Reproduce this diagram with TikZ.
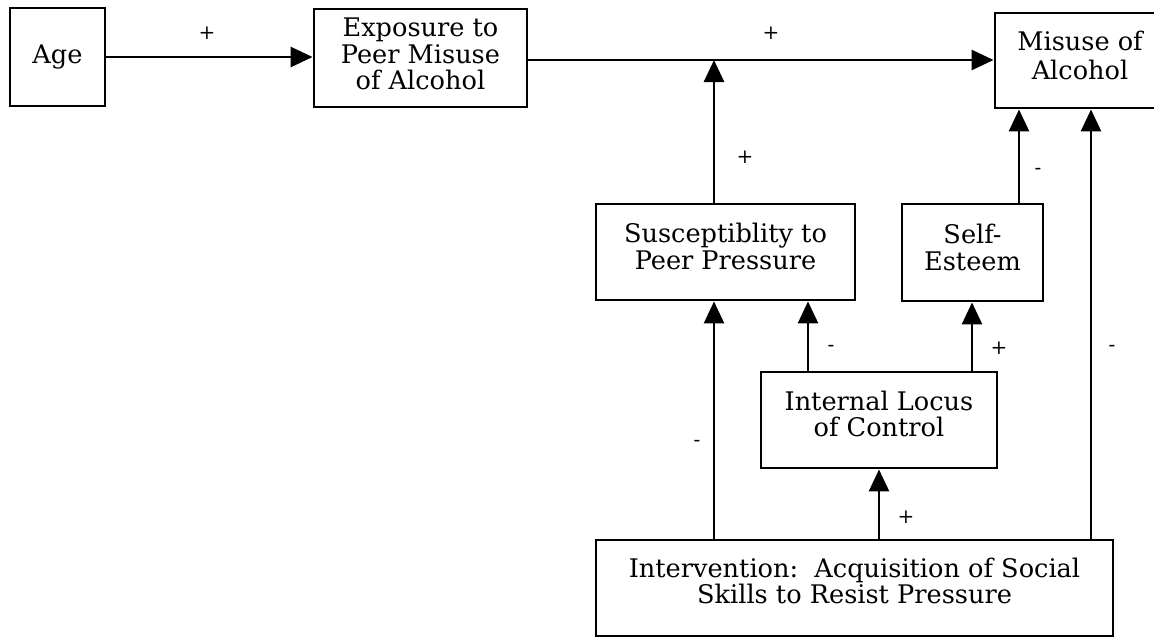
\documentclass[tikz,border=0pt]{standalone}
\usepackage{fontspec}
\setmainfont{DejaVu Serif}
\usetikzlibrary{arrows.meta}
\newcommand\dep[1]{\rule[-#1pt]{0pt}{#1pt}}
\begin{document}
\begin{tikzpicture}[x=1pt,y=-1pt,
  box/.style={draw=black,line width=2.9pt,fill=white,inner sep=0pt,align=center,
    font=\fontsize{25.6}{26.5}\selectfont},
  arr/.style={line width=2.8pt,-{Triangle[length=22pt,width=20pt]}},
  sign/.style={font=\fontsize{20}{22}\selectfont,inner sep=0pt}]
\useasboundingbox (0,0) rectangle (1154,638);
% boxes
\node[box,minimum width=95pt,minimum height=98pt] (age) at (57.5,57) {Age};
\node[box,minimum width=213pt,minimum height=98pt] (exp) at (420.5,58) {Exposure to\\Peer Misuse\\of Alcohol\dep{8}};
\node[box,minimum width=170pt,minimum height=95pt] (mis) at (1080,60.5) {Misuse of\\[3pt]Alcohol\dep{10}};
\node[box,minimum width=259pt,minimum height=96pt] (sus) at (725.5,252) {Susceptiblity to\\Peer Pressure\dep{11}};
\node[box,minimum width=141pt,minimum height=97pt] (self) at (972.5,252.5) {Self-\\Esteem\dep{10}};
\node[box,minimum width=236pt,minimum height=96pt] (loc) at (879,420) {Internal Locus\\of Control\dep{12}};
\node[box,minimum width=517pt,minimum height=96pt] (int) at (854.5,588) {Intervention:\ \ Acquisition of Social\\Skills to Resist Pressure\dep{14}};
% x positions of connectors
\coordinate (xa) at (714,0);
\coordinate (xb) at (808,0);
\coordinate (xc) at (972,0);
\coordinate (xd) at (879,0);
\coordinate (xe) at (1019,0);
\coordinate (xf) at (1091,0);
\coordinate (ya) at (0,60);
% connectors
\draw[arr] (age.east) -- (age.east -| exp.west);
\draw[arr] (exp.east |- ya) -- (mis.west |- ya);
\coordinate (j) at (xa |- ya);
\draw[arr] (xa |- sus.north) -- (j);
\draw[arr] (xe |- self.north) -- (xe |- mis.south);
\draw[arr] (xf |- int.north) -- (xf |- mis.south);
\draw[arr] (xb |- loc.north) -- (xb |- sus.south);
\draw[arr] (xc |- loc.north) -- (xc |- self.south);
\draw[arr] (xa |- int.north) -- (xa |- sus.south);
\draw[arr] (xd |- int.north) -- (xd |- loc.south);
% signs
\node[sign] (s1) at (207,33) {+};
\node[sign] (s2) at (771,33) {+};
\node[sign] (s3) at (745,157) {+};
\node[sign] (s4) at (1038,171) {-};
\node[sign] (s5) at (831,348) {-};
\node[sign] (s6) at (999,348) {+};
\node[sign] (s7) at (1112,348) {-};
\node[sign] (s8) at (697,443) {-};
\node[sign] (s9) at (906,517) {+};
\end{tikzpicture}
\end{document}
